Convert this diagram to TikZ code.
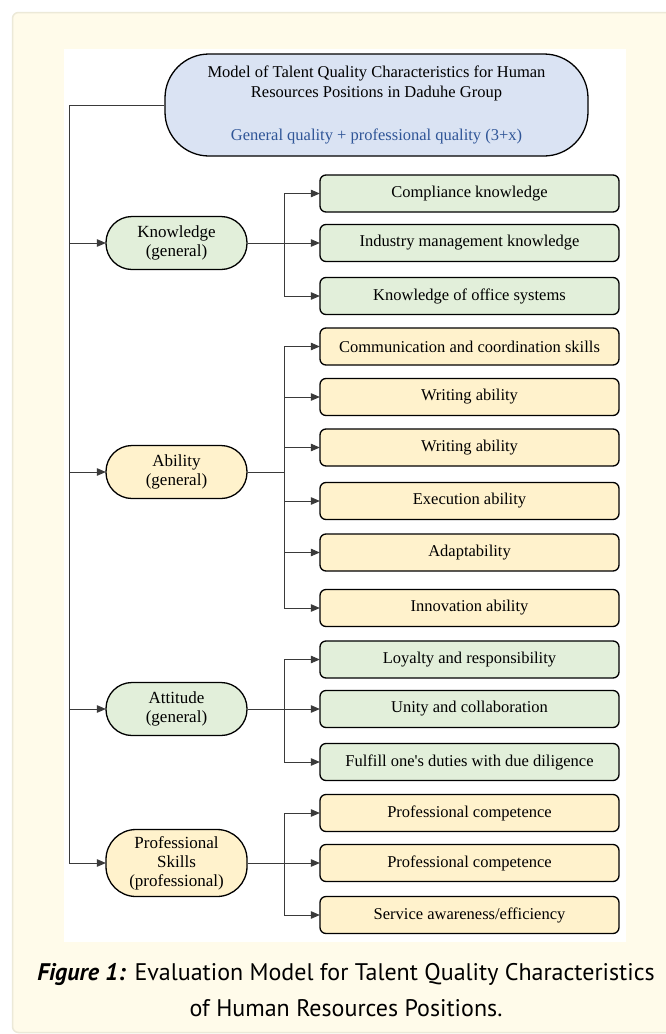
\documentclass[tikz,border=0pt]{standalone}
\usepackage{fontspec}
\setmainfont{Liberation Serif}
\newfontfamily\capfont{PT Sans}
\usetikzlibrary{arrows.meta}
\definecolor{panelbg}{HTML}{FFFBEA}
\definecolor{panelbd}{HTML}{ECE9D8}
\definecolor{gfill}{HTML}{E2EFDA}
\definecolor{yfill}{HTML}{FFF2CC}
\definecolor{bfill}{HTML}{DAE3F3}
\definecolor{btext}{HTML}{2F5597}
\definecolor{lnc}{HTML}{3A3A3A}
\tikzset{
  leafbox/.style={draw=black, line width=1.3pt, rounded corners=6pt, minimum width=299pt, minimum height=37pt, inner sep=0pt, font=\fontsize{16.5}{19}\selectfont},
  catbox/.style={draw=black, line width=1.3pt, rounded corners=26pt, minimum width=141pt, minimum height=53pt, inner sep=0pt, align=center, font=\fontsize{17}{19}\selectfont},
  conn/.style={draw=lnc, line width=0.9pt},
  arr/.style={conn, -{Triangle[length=9pt,width=7.5pt]}, shorten >=-0.5pt},
}
\begin{document}
\begin{tikzpicture}[x=1pt,y=-1pt]
\useasboundingbox (0,0) rectangle (665,1034);
% panel
\fill[white] (0,0) rectangle (665,1034);
\draw[panelbd, fill=panelbg, line width=1.5pt, rounded corners=6pt] (12.5,12.5) rectangle (690,1032.5);
\fill[white] (64,49) rectangle (626,942);
% title
\node[draw=black, line width=1.3pt, fill=bfill, rounded corners=44pt, minimum width=423pt, minimum height=102pt, inner sep=0pt] (T) at (376.5,105) {};
\node[font=\fontsize{16.5}{20}\selectfont, align=center] (T1) at (376.5,83.5) {Model of Talent Quality Characteristics for Human\\Resources Positions in Daduhe Group};
\node[font=\fontsize{16.5}{20}\selectfont, text=btext] (T2) at (376.5,136) {General quality + professional quality (3+x)};
% categories
\node[catbox, fill=gfill] (K) at (176.5,243) {Knowledge\\(general)};
\node[catbox, fill=yfill] (A) at (176.5,472) {Ability\\(general)};
\node[catbox, fill=gfill] (At) at (176.5,709) {Attitude\\(general)};
\node[catbox, fill=yfill, rounded corners=30pt, minimum height=67pt] (P) at (176.5,863) {Professional\\Skills\\(professional)};
% leaves
\node[leafbox, fill=gfill] (k1) at (469.5,193.5) {Compliance knowledge};
\node[leafbox, fill=gfill] (k2) at (469.5,243) {Industry management knowledge};
\node[leafbox, fill=gfill] (k3) at (469.5,296) {Knowledge of office systems};
\node[leafbox, fill=yfill] (a1) at (469.5,346.5) {Communication and coordination skills};
\node[leafbox, fill=yfill] (a2) at (469.5,397) {Writing ability};
\node[leafbox, fill=yfill] (a3) at (469.5,447.5) {Writing ability};
\node[leafbox, fill=yfill] (a4) at (469.5,501) {Execution ability};
\node[leafbox, fill=yfill] (a5) at (469.5,552.5) {Adaptability};
\node[leafbox, fill=yfill] (a6) at (469.5,608) {Innovation ability};
\node[leafbox, fill=gfill] (t1) at (469.5,659.5) {Loyalty and responsibility};
\node[leafbox, fill=gfill] (t2) at (469.5,709) {Unity and collaboration};
\node[leafbox, fill=gfill] (t3) at (469.5,762) {Fulfill one\textquotesingle s duties with due diligence};
\node[leafbox, fill=yfill] (p1) at (469.5,813) {Professional competence};
\node[leafbox, fill=yfill] (p2) at (469.5,863) {Professional competence};
\node[leafbox, fill=yfill] (p3) at (469.5,915) {Service awareness/efficiency};
% trunk
\coordinate (tb) at (69,863);
\draw[conn] (T.west) -| (tb);
\draw[arr] (tb |- K.west) -- (K.west);
\draw[arr] (tb |- A.west) -- (A.west);
\draw[arr] (tb |- At.west) -- (At.west);
\draw[arr] (tb) -- (P.west);
% junctions
\coordinate (kj) at (284,243);
\coordinate (aj) at (284,472);
\coordinate (tj) at (284,709);
\coordinate (pj) at (284,863);
\draw[conn] (K.east) -- (kj);
\draw[arr] (kj) -- (k2.west);
\draw[arr] (kj) |- (k1.west);
\draw[arr] (kj) |- (k3.west);
\draw[conn] (A.east) -- (aj);
\foreach \n in {a1,a2,a3,a4,a5,a6} \draw[arr] (aj) |- (\n.west);
\draw[conn] (At.east) -- (tj);
\draw[arr] (tj) -- (t2.west);
\draw[arr] (tj) |- (t1.west);
\draw[arr] (tj) |- (t3.west);
\draw[conn] (P.east) -- (pj);
\draw[arr] (pj) -- (p2.west);
\draw[arr] (pj) |- (p1.west);
\draw[arr] (pj) |- (p3.west);
% caption
\node[font=\capfont\fontsize{24}{28}\selectfont] (C1) at (346,974) {\textbf{\textit{Figure 1:}} Evaluation Model for Talent Quality Characteristics};
\node[font=\capfont\fontsize{24}{28}\selectfont] (C2) at (346,1008) {of Human Resources Positions.};
\end{tikzpicture}
\end{document}
